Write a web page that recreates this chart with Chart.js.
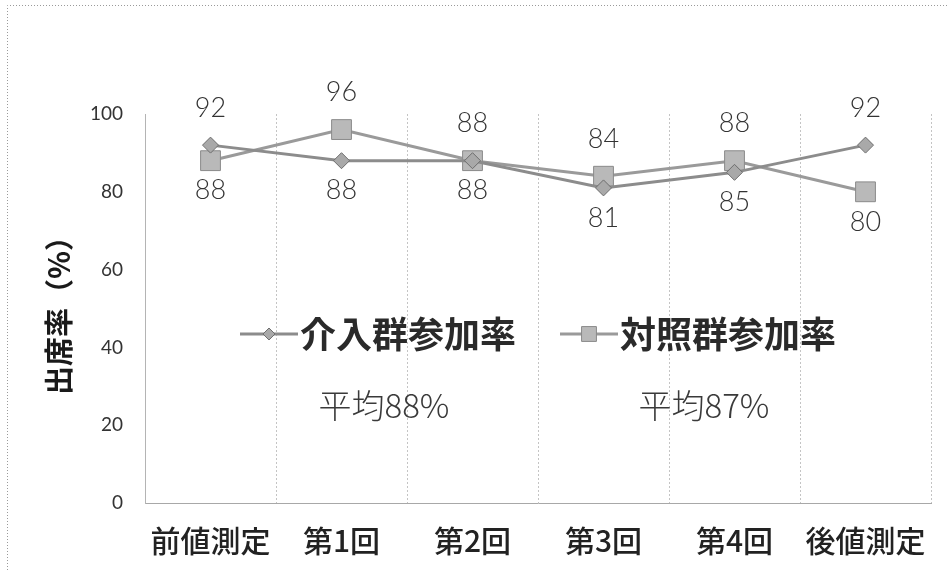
<!DOCTYPE html>
<html>
<head>
<meta charset="utf-8">
<script src="https://cdn.jsdelivr.net/npm/chart.js@4/dist/chart.umd.min.js"></script>
<style>
  html, body { margin: 0; padding: 0; background: #fff; }
  #wrap { width: 948px; height: 570px; position: relative; }
</style>
</head>
<body>
<div id="wrap"><canvas id="attendChart" width="948" height="570"></canvas></div>
<script>
// data
const categories = ['前値測定', '第1回', '第2回', '第3回', '第4回', '後値測定'];
const interventionRate = [92, 88, 88, 81, 85, 92];
const controlRate = [88, 96, 88, 84, 88, 80];
const seriesNames = ['介入群参加率', '対照群参加率'];
const averageTexts = ['平均88%', '平均87%'];
const yTicks = [0, 20, 40, 60, 80, 100];
const yTitle = '出席率（%）';

// which side of the point each value label sits on
const interventionLabelSide = ['above', 'below', 'below', 'below', 'below', 'above'];
const controlLabelSide = ['below', 'above', 'above', 'above', 'above', 'below'];

const NUM_FONT = 'Lato, "Noto Sans", sans-serif';
const JP_FONT = '"Noto Sans CJK JP", "Noto Sans", sans-serif';

const frameBox = {
    id: 'frameBox',
    beforeDraw(chart) {
        const ctx = chart.ctx;
        ctx.save();
        ctx.strokeStyle = '#9a9a9a';
        ctx.lineWidth = 1;
        ctx.setLineDash([1, 2]);
        ctx.beginPath();
        ctx.moveTo(7.5, 600);
        ctx.lineTo(7.5, 5.5);
        ctx.lineTo(948, 5.5);
        ctx.stroke();
        ctx.restore();
    }
};

const valueLabels = {
    id: 'valueLabels',
    afterDatasetsDraw(chart) {
        const ctx = chart.ctx;
        ctx.save();
        ctx.font = '300 27px ' + NUM_FONT;
        ctx.fillStyle = '#333';
        ctx.textAlign = 'center';
        ctx.textBaseline = 'middle';
        chart.data.datasets.forEach((ds, i) => {
            const meta = chart.getDatasetMeta(i);
            meta.data.forEach((pt, j) => {
                const side = ds.labelSide[j];
                const y = side === 'above' ? pt.y - 37 : pt.y + 30;
                ctx.fillText(String(ds.data[j]), pt.x, y);
            });
        });
        ctx.restore();
    }
};

// legend drawn inside the plot area with the averages under it
const innerLegend = {
    id: 'innerLegend',
    afterDraw(chart) {
        const ctx = chart.ctx;
        const area = chart.chartArea;
        const lineLen = 58;
        const gapText = 2;
        const gapItems = 44;
        ctx.save();
        ctx.font = 'bold 36px ' + JP_FONT;
        const widths = chart.data.datasets.map(ds => lineLen + gapText + ctx.measureText(ds.label).width);
        const total = widths.reduce((a, b) => a + b, 0) + gapItems * (widths.length - 1);
        let x = (area.left + area.right) / 2 - total / 2;
        const y = 334;
        chart.data.datasets.forEach((ds, i) => {
            ctx.strokeStyle = ds.borderColor;
            ctx.lineWidth = ds.borderWidth;
            ctx.beginPath();
            ctx.moveTo(x, y);
            ctx.lineTo(x + lineLen, y);
            ctx.stroke();
            ctx.fillStyle = ds.pointBackgroundColor;
            ctx.strokeStyle = ds.pointBorderColor;
            ctx.lineWidth = ds.pointBorderWidth;
            Chart.helpers.drawPoint(ctx, {
                pointStyle: ds.pointStyle,
                radius: ds.pointRadius * 0.75,
                borderWidth: ds.pointBorderWidth,
                rotation: 0
            }, x + lineLen / 2, y);
            ctx.fillStyle = '#2a2a2a';
            ctx.textAlign = 'left';
            ctx.textBaseline = 'middle';
            ctx.font = 'bold 36px ' + JP_FONT;
            ctx.fillText(ds.label, x + lineLen + gapText, y);

            ctx.font = '300 33px ' + JP_FONT;
            ctx.fillStyle = '#3a3a3a';
            ctx.textAlign = 'center';
            ctx.fillText(averageTexts[i], x + widths[i] / 2 + 6, 405);

            x += widths[i] + gapItems;
        });
        ctx.restore();
    }
};

const ctx = document.getElementById('attendChart').getContext('2d');
new Chart(ctx, {
    type: 'line',
    data: {
        labels: categories,
        datasets: [{
            label: seriesNames[0],
            data: interventionRate,
            labelSide: interventionLabelSide,
            borderColor: '#8c8c8c',
            borderWidth: 3,
            pointStyle: 'rectRot',
            pointRadius: 8,
            pointHoverRadius: 8,
            pointBackgroundColor: '#a9a9a9',
            pointBorderColor: '#6e6e6e',
            pointBorderWidth: 1,
            tension: 0
        }, {
            label: seriesNames[1],
            data: controlRate,
            labelSide: controlLabelSide,
            borderColor: '#9a9a9a',
            borderWidth: 3,
            pointStyle: 'rect',
            pointRadius: 14,
            pointHoverRadius: 14,
            pointBackgroundColor: '#b9b9b9',
            pointBorderColor: '#8a8a8a',
            pointBorderWidth: 1,
            tension: 0
        }]
    },
    options: {
        responsive: false,
        animation: false,
        events: [],
        layout: { padding: { top: 114, right: 17, left: 42, bottom: 0 } },
        plugins: {
            legend: { display: false },
            tooltip: { enabled: false }
        },
        scales: {
            x: {
                offset: true,
                grid: { offset: true, color: '#c4c4c4', lineWidth: 1, drawTicks: false },
                border: { color: '#a8a8a8', dash: [2, 2] },
                ticks: {
                    color: '#222',
                    font: { family: JP_FONT, size: 30, weight: '500' },
                    padding: 20,
                    maxRotation: 0,
                    autoSkip: false
                },
                afterFit(scale) { scale.height = 570 - 503; }
            },
            y: {
                min: 0,
                max: 100,
                afterBuildTicks(scale) { scale.ticks = yTicks.map(v => ({ value: v })); },
                grid: { display: false, drawTicks: false },
                border: { color: '#b4b4b4' },
                ticks: {
                    color: '#333',
                    font: { family: NUM_FONT, size: 19 },
                    padding: 22
                },
                title: {
                    display: true,
                    text: yTitle,
                    color: '#1a1a1a',
                    font: { family: JP_FONT, size: 29, weight: 'bold' },
                    padding: { top: 0, bottom: 0 }
                },
                afterFit(scale) { scale.width = 145 - 42; }
            }
        }
    },
    plugins: [frameBox, valueLabels, innerLegend]
});
</script>
</body>
</html>
